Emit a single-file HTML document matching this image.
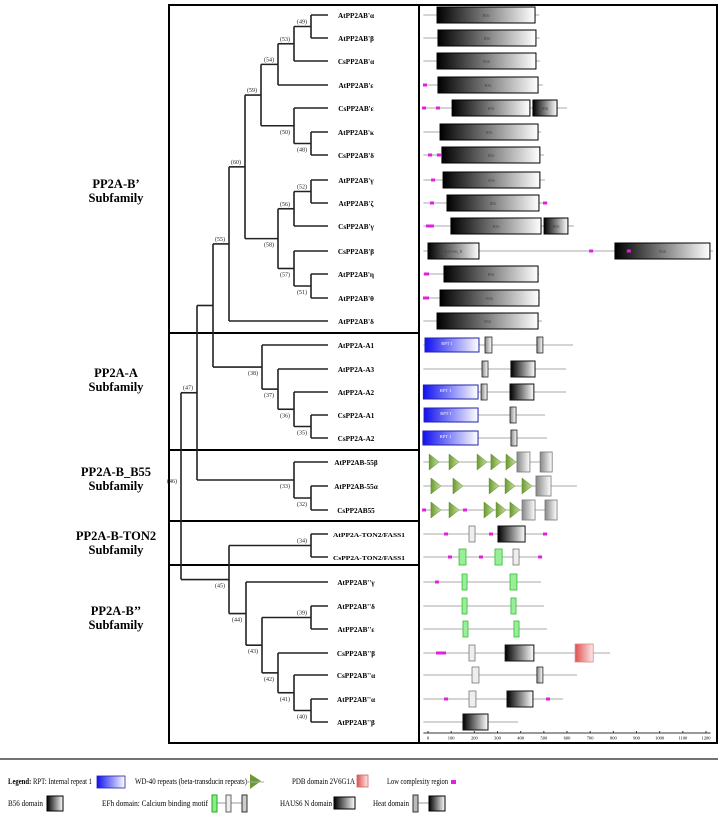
<!DOCTYPE html>
<html><head><meta charset="utf-8"><style>
body{margin:0;background:#fff}
svg{display:block;font-family:"Liberation Serif",serif}
</style></head><body>
<svg id="c" width="722" height="816" viewBox="0 0 722 816" xmlns="http://www.w3.org/2000/svg">
<defs>
<linearGradient id="gB" x1="0" x2="1"><stop offset="0" stop-color="#000"/><stop offset="1" stop-color="#fff"/></linearGradient>
<linearGradient id="gBlue" x1="0" x2="1"><stop offset="0" stop-color="#1010f0"/><stop offset="1" stop-color="#fff"/></linearGradient>
<linearGradient id="gRed" x1="0" x2="1"><stop offset="0" stop-color="#e05050"/><stop offset="1" stop-color="#fdeaea"/></linearGradient>
<linearGradient id="gGray" x1="0" x2="1"><stop offset="0" stop-color="#888"/><stop offset="1" stop-color="#fff"/></linearGradient>
<linearGradient id="gGreen" x1="0" x2="1"><stop offset="0" stop-color="#6a9a30"/><stop offset="1" stop-color="#c8e0a0"/></linearGradient>
</defs>
<g id="frame">
<rect x="169" y="5" width="250" height="738" fill="none" stroke="#000" stroke-width="2"/>
<rect x="419" y="5" width="298" height="738" fill="none" stroke="#000" stroke-width="2"/>
<line x1="168" y1="333" x2="419" y2="333" stroke="#000" stroke-width="2"/>
<line x1="168" y1="450" x2="419" y2="450" stroke="#000" stroke-width="2"/>
<line x1="168" y1="521" x2="419" y2="521" stroke="#000" stroke-width="2"/>
<line x1="168" y1="565" x2="419" y2="565" stroke="#000" stroke-width="2"/>
</g>
<g font-weight="bold" font-size="12.5" text-anchor="middle">
<text x="116" y="188">PP2A-B’<tspan x="116" dy="14">Subfamily</tspan></text>
<text x="116" y="377">PP2A-A<tspan x="116" dy="14">Subfamily</tspan></text>
<text x="116" y="476">PP2A-B_B55<tspan x="116" dy="14">Subfamily</tspan></text>
<text x="116" y="540">PP2A-B-TON2<tspan x="116" dy="14">Subfamily</tspan></text>
<text x="116" y="615">PP2A-B’’<tspan x="116" dy="14">Subfamily</tspan></text>
</g>
<g id="tree"></g>
<g id="dom"></g>
<g id="axis"></g>
<g id="legend" font-size="8.5">
<line x1="0" y1="759" x2="718" y2="759" stroke="#444" stroke-width="1.5"/>
<text x="8" y="784" textLength="84" lengthAdjust="spacingAndGlyphs"><tspan font-weight="bold">Legend:</tspan> RPT: Internal repeat 1</text>
<rect x="97" y="776" width="28" height="12" fill="url(#gBlue)" stroke="#22a" stroke-width="0.8"/>
<text x="135" y="784" textLength="112" lengthAdjust="spacingAndGlyphs">WD-40 repeats (beta-transducin repeats)</text>
<polygon points="250,774 261,781 250,789" fill="#6a9a30"/><line x1="246" y1="782" x2="264" y2="782" stroke="#aaa"/>
<text x="292" y="784" textLength="63" lengthAdjust="spacingAndGlyphs">PDB domain 2V6G1A</text>
<rect x="357" y="775" width="11" height="12" fill="url(#gRed)" stroke="#c66" stroke-width="0.8"/>
<text x="387" y="784" textLength="61" lengthAdjust="spacingAndGlyphs">Low complexity region</text>
<rect x="451" y="780" width="5" height="4" fill="#e020e0"/>
<text x="8" y="806" textLength="35" lengthAdjust="spacingAndGlyphs">B56 domain</text>
<rect x="47" y="796" width="16" height="15" fill="url(#gB)" stroke="#000"/>
<text x="102" y="806" textLength="106" lengthAdjust="spacingAndGlyphs">EFh domain: Calcium binding motif</text>
<line x1="212" y1="803" x2="247" y2="803" stroke="#999"/>
<rect x="212" y="795" width="5" height="17" fill="#8e8" stroke="#2a2"/>
<rect x="226" y="795" width="5" height="17" fill="#eee" stroke="#666"/>
<rect x="242" y="795" width="5" height="17" fill="#ccc" stroke="#333"/>
<text x="280" y="806" textLength="52" lengthAdjust="spacingAndGlyphs">HAUS6 N domain</text>
<rect x="334" y="797" width="21" height="12" fill="url(#gB)" stroke="#000"/>
<text x="373" y="806" textLength="36" lengthAdjust="spacingAndGlyphs">Heat domain</text>
<line x1="415" y1="803" x2="445" y2="803" stroke="#999"/>
<rect x="413" y="795" width="5" height="17" fill="#bbb" stroke="#333"/>
<rect x="429" y="796" width="16" height="15" fill="url(#gB)" stroke="#000"/>
</g>
</svg>
<script>
// ---- data ----
const leafNames = ["AtPP2AB'α","AtPP2AB'β","CsPP2AB'α","AtPP2AB'ε","CsPP2AB'ε","AtPP2AB'κ","CsPP2AB'δ","AtPP2AB'γ","AtPP2AB'ζ","CsPP2AB'γ","CsPP2AB'β","AtPP2AB'η","AtPP2AB'θ","AtPP2AB'δ","AtPP2A-A1","AtPP2A-A3","AtPP2A-A2","CsPP2A-A1","CsPP2A-A2","AtPP2AB-55β","AtPP2AB-55α","CsPP2AB55","AtPP2A-TON2/FASS1","CsPP2A-TON2/FASS1","AtPP2AB''γ","AtPP2AB''δ","AtPP2AB''ε","CsPP2AB''β","CsPP2AB''α","AtPP2AB''α","AtPP2AB''β"];
const leafY = [15,38,61,85,108,132,155,180,203,226,251,274,298,321,345,369,392,415,438,462,486,510,534,557,582,606,629,653,675,699,722];
const nodes = [
 ["n49",311,[0,1],"(49)",0],["n53",294,["n49",2],"(53)",0],["n54",278,["n53",3],"(54)",0],
 ["n48",311,[5,6],"(48)",1],["n50",294,[4,"n48"],"(50)",1],["n59",261,["n54","n50"],"(59)",0],
 ["n52",311,[7,8],"(52)",0],["n56",294,["n52",9],"(56)",0],["n51",311,[11,12],"(51)",1],
 ["n57",294,[10,"n51"],"(57)",1],["n58",278,["n56","n57"],"(58)",1],["n60",245,["n59","n58"],"(60)",0],
 ["n55",229,["n60",13],"(55)",0],
 ["n35",311,[17,18],"(35)",1],["n36",294,[16,"n35"],"(36)",1],["n37",278,[15,"n36"],"(37)",1],["n38",262,[14,"n37"],"(38)",1],
 ["nX",213,["n55","n38"],"",0],
 ["n32",311,[20,21],"(32)",1],["n33",294,[19,"n32"],"(33)",1],["n47",197,["nX","n33"],"(47)",0],
 ["n34",311,[22,23],"(34)",0],["n39",311,[25,26],"(39)",0],["n40",311,[29,30],"(40)",1],
 ["n41",294,[28,"n40"],"(41)",1],["n42",278,[27,"n41"],"(42)",1],["n43",262,["n39","n42"],"(43)",1],
 ["n44",246,[24,"n43"],"(44)",1],["n45",229,["n34","n44"],"(45)",1],["n46",181,["n47","n45"],"(46)",0]
];
const protLen = [480,483,483,496,600,488,501,505,518,630,1230,480,483,492,626,596,596,505,514,536,643,557,518,488,488,501,514,786,643,583,389];
const lowComplex = [[],[],[],[-13],[-17,43],[],[9,47],[22],[17,505],[0,9,17],[704,867],[-9,-4],[-13,-4],[],[],[],[],[],[],[],[],[-17,160],[78,272,505],[95,229,484],[39],[],[],[43,56,69],[],[78,518],[]];
const domains = [
 [["B56",39,462]],[["B56",43,466]],[["B56",39,466]],[["B56",43,475]],[["B56",104,440],["B56",453,557]],
 [["B56",52,475]],[["B56",60,483]],[["B56",65,483]],[["B56",82,479]],[["B56",99,488],["B56",501,604]],
 [["HAUS",0,220],["B56",807,1217]],[["B56",69,475]],[["B56",52,479]],[["B56",39,475]],
 [["RPT",-13,220],["HS",246,276],["HS",470,496]],[["HS",233,259],["HEAT",358,462]],
 [["RPT",-20,216],["HS",229,255],["HEAT",354,457]],[["RPT",-17,216],["HS",354,380]],[["RPT",-22,216],["HS",358,384]],
 [["WD",22],["WD",108],["WD",229],["WD",289],["WD",354],["GB",384,440],["GB",484,536]],
 [["WD",30],["WD",125],["WD",281],["WD",350],["WD",423],["GB",466,531]],
 [["WD",30],["WD",108],["WD",259],["WD",311],["WD",371],["GB",406,462],["GB",505,557]],
 [["EG",177,203],["HEAT",302,419]],
 [["EF",134,164],["EF",289,320],["EG",367,393]],
 [["EF",147,164],["EF",354,384]],[["EF",147,164],["EF",358,380]],[["EF",151,168],["EF",371,393]],
 [["EG",177,203],["HEAT",333,457],["PDB",635,713]],
 [["EG",190,220],["HS",470,496]],
 [["EG",177,207],["HEAT",341,453]],
 [["HEAT",151,259]]
];
const axisTicks = [0,100,200,300,400,500,600,700,800,900,1000,1100,1200];

const X0 = 428, X1 = 706, AMAX = 1200;
function xs(a){ return X0 + a*(X1-X0)/AMAX; }
const NS = "http://www.w3.org/2000/svg";
function mk(tag, attrs, parent, txt){
  const e = document.createElementNS(NS, tag);
  for (const k in attrs) e.setAttribute(k, attrs[k]);
  if (txt !== undefined) e.textContent = txt;
  parent.appendChild(e); return e;
}
const tree = document.getElementById('tree');
const dom = document.getElementById('dom');
const axis = document.getElementById('axis');

const nodeMap = {};
nodes.forEach(n => nodeMap[n[0]] = n);
const yCache = {};
function yOf(c){
  if (typeof c === 'number') return leafY[c];
  if (yCache[c] !== undefined) return yCache[c];
  const n = nodeMap[c];
  const ys = n[2].map(yOf);
  return yCache[c] = (Math.min(...ys) + Math.max(...ys))/2;
}
const LEAF_X = 328;
nodes.forEach(n => {
  const x = n[1];
  const ys = n[2].map(yOf);
  const v = mk('line',{x1:x,y1:Math.min(...ys),x2:x,y2:Math.max(...ys),stroke:'#222','stroke-width':1.6},tree);
  
  
  n[2].forEach(c => {
    const cx = typeof c === 'number' ? LEAF_X : nodeMap[c][1];
    const h = mk('line',{x1:x,y1:yOf(c),x2:cx,y2:yOf(c),stroke:'#222','stroke-width':1.6},tree);
    
    
  });
});
nodes.forEach(n => {
  if (!n[3]) return;
  const y = yOf(n[0]);
  const t = mk('text',{x:n[1]-9,y:n[4]? y+8 : y-3,'font-size':6,'text-anchor':'middle',fill:'#222'},tree,n[3]);
  
  
});
leafNames.forEach((nm,i) => {
  const attrs = {x:356,y:leafY[i]+3,'font-size':7.2,'font-weight':'bold','text-anchor':'middle'};
  if (nm.length > 14) { attrs.x = 369; attrs['font-size'] = 6.6; attrs.textLength = 72; attrs.lengthAdjust = 'spacingAndGlyphs'; }
  const t = mk('text',attrs,tree,nm);
  
  
});

leafY.forEach((y,i) => {
  const g = mk('g',{},dom);
  
  
  const bb = mk('line',{x1:xs(-20),y1:y,x2:xs(protLen[i]),y2:y,stroke:'#aaa','stroke-width':1},g);
  
  
  domains[i].forEach(d => {
    const t = d[0]; let e;
    if (t === 'B56' || t === 'HAUS') {
      e = mk('rect',{x:xs(d[1]),y:y-8,width:xs(d[2])-xs(d[1]),height:16,fill:'url(#gB)',stroke:'#000','stroke-width':1},g);
      mk('text',{x:(xs(d[1])+xs(d[2]))/2,y:y+2,'font-size':4,'text-anchor':'middle',fill:'#444'},g,t==='B56'?'B56':'HAUS6_N');
    } else if (t === 'RPT') {
      e = mk('rect',{x:xs(d[1]),y:y-7,width:xs(d[2])-xs(d[1]),height:14,fill:'url(#gBlue)',stroke:'#22a','stroke-width':1},g);
      mk('text',{x:(xs(d[1])+xs(d[2]))/2 - 5,y:y,'font-size':4.5,'text-anchor':'middle',fill:'#fff'},g,'RPT 1');
    } else if (t === 'HS') {
      e = mk('rect',{x:xs(d[1]),y:y-8,width:Math.max(5,xs(d[2])-xs(d[1])),height:16,fill:'url(#gGray)',stroke:'#222','stroke-width':0.8},g);
    } else if (t === 'HEAT') {
      e = mk('rect',{x:xs(d[1]),y:y-8,width:xs(d[2])-xs(d[1]),height:16,fill:'url(#gB)',stroke:'#111','stroke-width':1},g);
    } else if (t === 'GB') {
      e = mk('rect',{x:xs(d[1]),y:y-10,width:xs(d[2])-xs(d[1]),height:20,fill:'url(#gGray)',stroke:'#777','stroke-width':0.8},g);
    } else if (t === 'EG') {
      e = mk('rect',{x:xs(d[1]),y:y-8,width:Math.max(5,xs(d[2])-xs(d[1])),height:16,fill:'#eee',stroke:'#777','stroke-width':0.8},g);
    } else if (t === 'EF') {
      e = mk('rect',{x:xs(d[1]),y:y-8,width:Math.max(5,xs(d[2])-xs(d[1])),height:16,fill:'#9e9',stroke:'#3b3','stroke-width':0.8},g);
    } else if (t === 'PDB') {
      e = mk('rect',{x:xs(d[1]),y:y-9,width:xs(d[2])-xs(d[1]),height:18,fill:'url(#gRed)',stroke:'#d88','stroke-width':0.8},g);
    } else if (t === 'WD') {
      const cx = xs(d[1]);
      e = mk('polygon',{points:`${cx-4},${y-8} ${cx+6},${y} ${cx-4},${y+8}`,fill:'url(#gGreen)',stroke:'#5a8a20','stroke-width':0.5},g);
    }
    
    
  });
  lowComplex[i].forEach(a => {
    const r = mk('rect',{x:xs(a)-2,y:y-1.5,width:4,height:3,fill:'#e020e0'},g);
    
    
  });
});

const al = mk('line',{x1:xs(-20),y1:733,x2:xs(1220),y2:733,stroke:'#333','stroke-width':1},axis);


axisTicks.forEach(v => {
  const tk = mk('line',{x1:xs(v),y1:731,x2:xs(v),y2:733,stroke:'#333'},axis);
  
  
  const t = mk('text',{x:xs(v),y:739.5,'font-size':4.5,'text-anchor':'middle'},axis,String(v));
  
  
});
</script>
</body></html>
